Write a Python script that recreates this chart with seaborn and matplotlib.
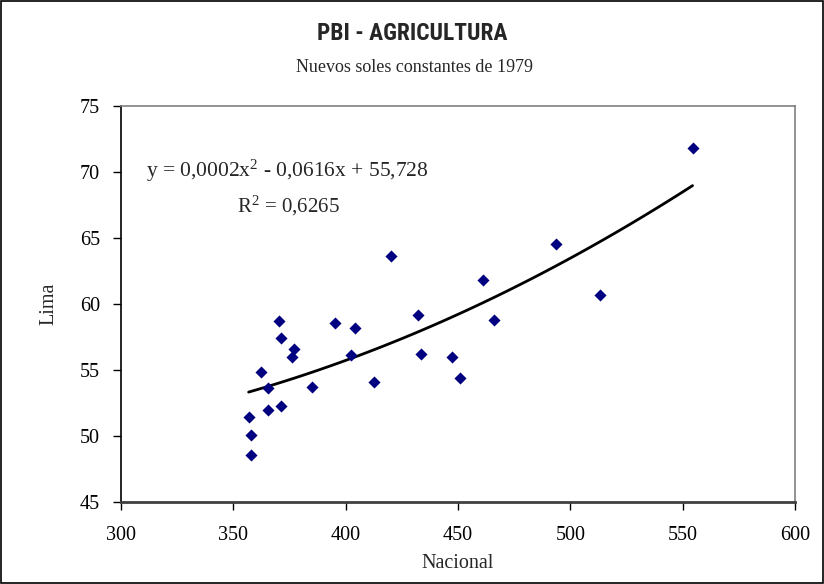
import numpy as np
import pandas as pd
import matplotlib
matplotlib.use("Agg")
import matplotlib.pyplot as plt
import seaborn as sns
from matplotlib.patches import Rectangle
from matplotlib import font_manager as fm

nacional = [370.5, 395.4, 404.2, 432.3, 371.1, 377.0, 376.0, 402.2, 433.4,
            362.4, 365.6, 384.9, 412.7, 365.6, 371.1, 356.8, 358.0, 358.0,
            554.4, 493.5, 461.0, 513.3, 466.0, 447.2, 450.9, 420.0]
lima = [58.73, 58.54, 58.20, 59.19, 57.45, 56.61, 55.96, 56.14, 56.21,
        54.83, 53.61, 53.74, 54.07, 51.95, 52.25, 51.42, 50.05, 48.56,
        71.80, 64.57, 61.82, 60.66, 58.77, 55.96, 54.39, 63.60]

x_ticks = [300, 350, 400, 450, 500, 550, 600]
y_ticks = [45, 50, 55, 60, 65, 70, 75]

title = "PBI - AGRICULTURA"
subtitle = "Nuevos soles constantes de 1979"
eq_text = "y = 0,0002x$^2$ - 0,0616x + 55,728"
r2_text = "R$^2$ = 0,6265"

df = pd.DataFrame({"Nacional": nacional, "Lima": lima})

sns.set_style("white")
plt.rcParams['font.family'] = ['Liberation Serif', 'DejaVu Serif']
plt.rcParams['mathtext.fontset'] = 'custom'
plt.rcParams['mathtext.rm'] = 'Liberation Serif'
plt.rcParams['mathtext.it'] = 'Liberation Serif'

# pick a condensed bold font for the title if one is installed
title_fp = None
pref = []
for f in fm.fontManager.ttflist:
    nm = f.name.lower()
    st = str(f.stretch).lower()
    cond = ('narrow' in nm or 'condensed' in nm or 'condensed' in st or 'narrow' in st
            or 'condensed' in f.fname.lower() or 'narrow' in f.fname.lower())
    bold = (str(f.weight) in ('bold', '700', '600', 'semibold', 'demibold') or
            (isinstance(f.weight, int) and f.weight >= 600) or 'bold' in f.fname.lower())
    if cond and bold and 'italic' not in f.fname.lower() and 'oblique' not in f.fname.lower():
        rank = 0 if 'liberation' in nm else (1 if 'roboto' in nm else (2 if 'open' in nm else 3))
        pref.append((rank, f.fname))
if pref:
    pref.sort()
    title_fp = fm.FontProperties(fname=pref[0][1])
else:
    title_fp = fm.FontProperties(family=['Liberation Serif'], weight='bold')

fig = plt.figure(figsize=(8.24, 5.84), dpi=100)
ax = fig.add_axes([121/824, 1-502/584, (795-121)/824, (502-106)/584])

sns.regplot(data=df, x="Nacional", y="Lima", order=2, ci=None, scatter=False,
            line_kws=dict(color="black", lw=2.0), ax=ax, truncate=True)
sns.scatterplot(data=df, x="Nacional", y="Lima", marker="D", s=38,
                color="#000080", edgecolor="#000080", linewidth=0, ax=ax, zorder=3)

ax.set_xlim(300, 600)
ax.set_ylim(45, 75)
ax.set_xticks(x_ticks)
ax.set_yticks(y_ticks)
ax.tick_params(axis='both', direction='out', length=6, width=1, labelsize=14.5,
               colors='black', left=True, bottom=True)
ax.tick_params(axis='y', pad=9)
ax.tick_params(axis='x', pad=11)
ax.set_xlabel("Nacional", fontsize=14.5)
ax.set_ylabel("Lima", fontsize=14.5)
ax.yaxis.set_label_coords((58-121)/674, 0.5)
ax.xaxis.set_label_coords(0.5, (502-554)/396)

for s in ['top', 'right']:
    ax.spines[s].set_color('#808080')
    ax.spines[s].set_linewidth(1.2)
ax.spines['left'].set_color('black')
ax.spines['left'].set_linewidth(1.2)
ax.spines['bottom'].set_color('#404040')
ax.spines['bottom'].set_linewidth(2)

t = fig.text(412/824, 1-33/584, title, ha='center', va='center', fontproperties=title_fp)
t.set_fontsize(16)
# fit title width to ~190 px
fig.canvas.draw()
w = t.get_window_extent().width
if w > 0:
    t.set_fontsize(16 * 190.0 / w)

fig.text(414/824, 1-67/584, subtitle, ha='center', va='center', fontsize=13)

fig.text(287/824, 1-171/584, eq_text, ha='center', va='center', fontsize=15.5)
fig.text(288/824, 1-206/584, r2_text, ha='center', va='center', fontsize=15)

fig.patches.append(Rectangle((1/824, 1/584), 822/824, 582/584, transform=fig.transFigure,
                             fill=False, edgecolor='black', linewidth=1.2))

fig.savefig("out.png", dpi=100)
